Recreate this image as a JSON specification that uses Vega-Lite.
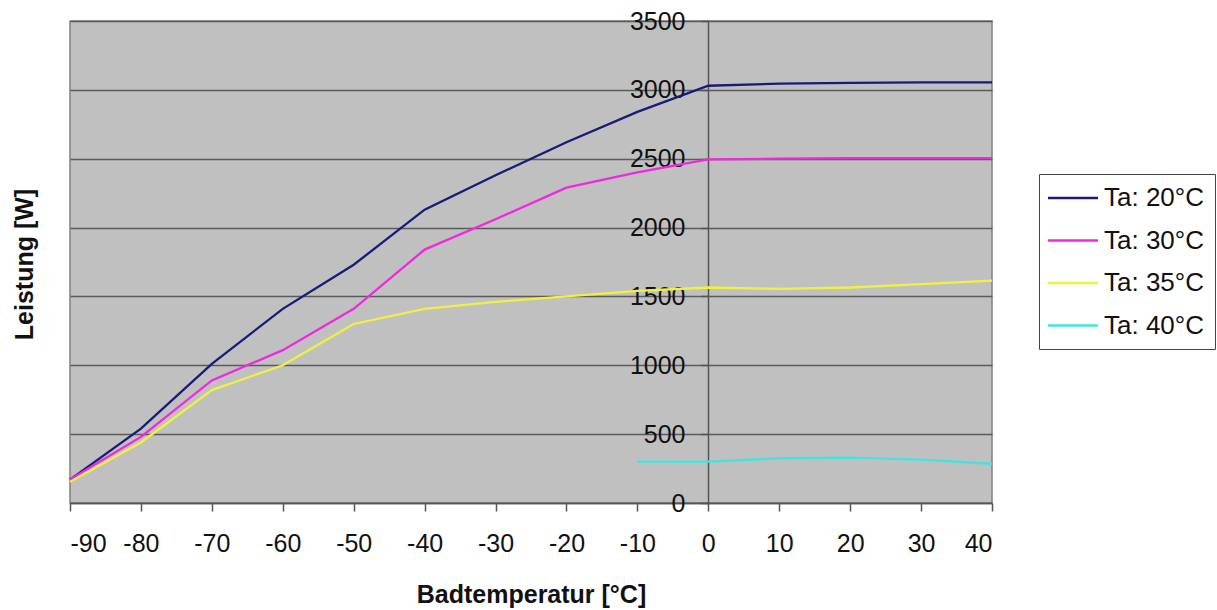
{
  "$schema": "https://vega.github.io/schema/vega-lite/v6.json",
  "autosize": "none",
  "width": 922,
  "height": 482,
  "padding": {"left": 70, "top": 21, "right": 225, "bottom": 107},
  "background": "white",
  "config": {
    "font": "Liberation Sans",
    "view": {"stroke": "#808080", "strokeWidth": 1.5, "fill": "#C0C0C0"},
    "axis": {"labelFont": "Liberation Sans", "titleFont": "Liberation Sans", "labelColor": "#111", "titleColor": "#111"}
  },
  "data": {
    "values": [
      {"x": -90, "y": 170, "s": "Ta: 20°C"},
      {"x": -80, "y": 540, "s": "Ta: 20°C"},
      {"x": -70, "y": 1010, "s": "Ta: 20°C"},
      {"x": -60, "y": 1410, "s": "Ta: 20°C"},
      {"x": -50, "y": 1730, "s": "Ta: 20°C"},
      {"x": -40, "y": 2130, "s": "Ta: 20°C"},
      {"x": -30, "y": 2380, "s": "Ta: 20°C"},
      {"x": -20, "y": 2620, "s": "Ta: 20°C"},
      {"x": -10, "y": 2840, "s": "Ta: 20°C"},
      {"x": 0, "y": 3030, "s": "Ta: 20°C"},
      {"x": 10, "y": 3045, "s": "Ta: 20°C"},
      {"x": 20, "y": 3050, "s": "Ta: 20°C"},
      {"x": 30, "y": 3055, "s": "Ta: 20°C"},
      {"x": 40, "y": 3055, "s": "Ta: 20°C"},
      {"x": -90, "y": 170, "s": "Ta: 30°C"},
      {"x": -80, "y": 480, "s": "Ta: 30°C"},
      {"x": -70, "y": 890, "s": "Ta: 30°C"},
      {"x": -60, "y": 1110, "s": "Ta: 30°C"},
      {"x": -50, "y": 1410, "s": "Ta: 30°C"},
      {"x": -40, "y": 1840, "s": "Ta: 30°C"},
      {"x": -30, "y": 2060, "s": "Ta: 30°C"},
      {"x": -20, "y": 2290, "s": "Ta: 30°C"},
      {"x": -10, "y": 2400, "s": "Ta: 30°C"},
      {"x": 0, "y": 2495, "s": "Ta: 30°C"},
      {"x": 10, "y": 2500, "s": "Ta: 30°C"},
      {"x": 20, "y": 2505, "s": "Ta: 30°C"},
      {"x": 30, "y": 2505, "s": "Ta: 30°C"},
      {"x": 40, "y": 2505, "s": "Ta: 30°C"},
      {"x": -90, "y": 155, "s": "Ta: 35°C"},
      {"x": -80, "y": 440, "s": "Ta: 35°C"},
      {"x": -70, "y": 820, "s": "Ta: 35°C"},
      {"x": -60, "y": 1000, "s": "Ta: 35°C"},
      {"x": -50, "y": 1300, "s": "Ta: 35°C"},
      {"x": -40, "y": 1410, "s": "Ta: 35°C"},
      {"x": -30, "y": 1460, "s": "Ta: 35°C"},
      {"x": -20, "y": 1500, "s": "Ta: 35°C"},
      {"x": -10, "y": 1540, "s": "Ta: 35°C"},
      {"x": 0, "y": 1565, "s": "Ta: 35°C"},
      {"x": 10, "y": 1555, "s": "Ta: 35°C"},
      {"x": 20, "y": 1565, "s": "Ta: 35°C"},
      {"x": 30, "y": 1590, "s": "Ta: 35°C"},
      {"x": 40, "y": 1615, "s": "Ta: 35°C"},
      {"x": -10, "y": 300, "s": "Ta: 40°C"},
      {"x": 0, "y": 300, "s": "Ta: 40°C"},
      {"x": 10, "y": 325, "s": "Ta: 40°C"},
      {"x": 20, "y": 330, "s": "Ta: 40°C"},
      {"x": 30, "y": 315, "s": "Ta: 40°C"},
      {"x": 40, "y": 285, "s": "Ta: 40°C"}
    ]
  },
  "mark": {"type": "line", "strokeWidth": 2.3},
  "encoding": {
    "x": {
      "field": "x", "type": "quantitative",
      "scale": {"domain": [-90, 40], "nice": false, "zero": false},
      "axis": {
        "title": "Badtemperatur [°C]",
        "values": [-90, -80, -70, -60, -50, -40, -30, -20, -10, 0, 10, 20, 30, 40],
        "labelExpr": "'' + datum.value",
        "grid": false,
        "domainColor": "#555555", "domainWidth": 1.5,
        "tickColor": "#555555", "tickSize": 8, "tickWidth": 1.5,
        "labelFontSize": 25, "labelPadding": 20,
        "titleFontSize": 25, "titleFontWeight": "bold", "titlePadding": 26
      }
    },
    "y": {
      "field": "y", "type": "quantitative",
      "scale": {"domain": [0, 3500], "nice": false},
      "axis": {
        "title": "Leistung [W]",
        "values": [0, 500, 1000, 1500, 2000, 2500, 3000, 3500],
        "labelExpr": "'' + datum.value",
        "offset": -638,
        "grid": true, "gridColor": "#5a5a5a", "gridWidth": 1.5,
        "domainColor": "#555555", "domainWidth": 1.5,
        "tickColor": "#555555", "tickSize": 7, "tickWidth": 1.5,
        "labelFontSize": 25, "labelPadding": 16,
        "titleFontSize": 25, "titleFontWeight": "bold",
        "titleX": -684, "titleY": 243, "titleBaseline": "middle", "titleAlign": "center"
      }
    },
    "color": {
      "field": "s", "type": "nominal",
      "scale": {
        "domain": ["Ta: 20°C", "Ta: 30°C", "Ta: 35°C", "Ta: 40°C"],
        "range": ["#1a1a78", "#f028e0", "#f0f040", "#40e4e0"]
      },
      "legend": {
        "title": null,
        "orient": "none", "legendX": 969, "legendY": 153,
        "symbolType": "M-2,0H2", "symbolSize": 625, "symbolStrokeWidth": 2.5, "symbolOffset": 10,
        "labelFontSize": 26, "labelColor": "#111", "labelOffset": 17, "labelLimit": 200,
        "rowPadding": 15.5, "padding": 10,
        "strokeColor": "#444444", "fillColor": "white"
      }
    }
  }
}
